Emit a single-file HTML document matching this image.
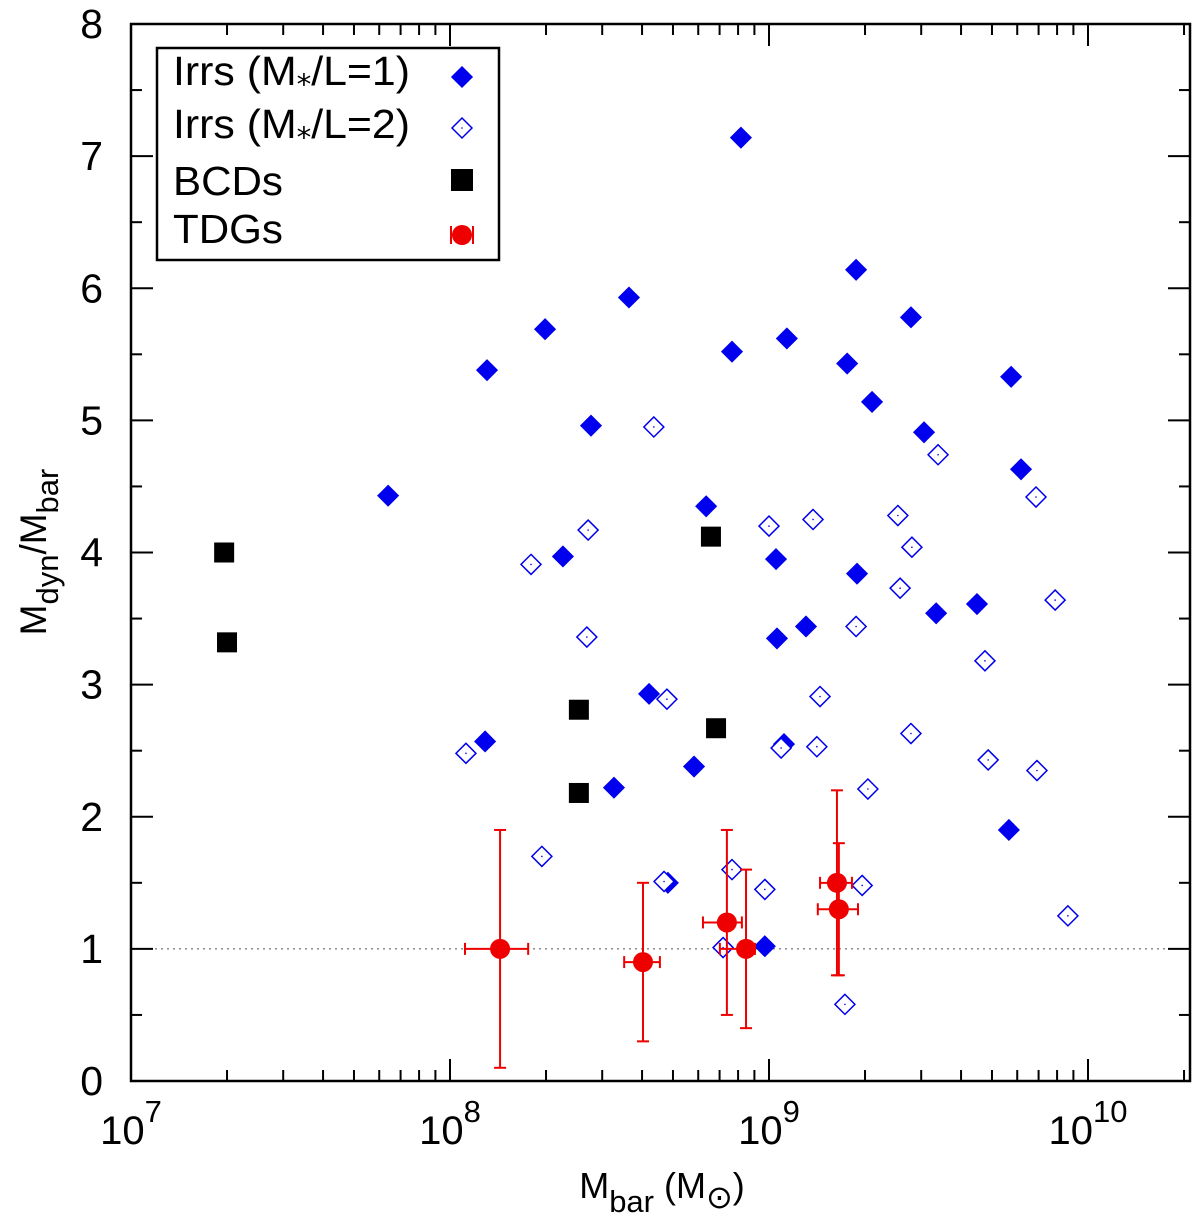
<!DOCTYPE html>
<html><head><meta charset="utf-8"><style>
html,body{margin:0;padding:0;background:#fff}
svg{display:block;font-family:"Liberation Sans",sans-serif}
</style></head><body>
<svg id="chart" width="1200" height="1216" viewBox="0 0 1200 1216" xmlns="http://www.w3.org/2000/svg"></svg>
<script>
// log10(Mbar) and Mdyn/Mbar values
const irr1LogM = [7.806,8.116,8.110,8.298,8.354,8.442,8.561,8.514,8.624,8.683,8.765,8.803,8.884,8.912,8.987,9.022,9.025,9.047,9.056,9.116,9.245,9.273,9.276,9.323,9.445,9.486,9.524,9.652,9.759,9.790,9.752];
const irr1Ratio = [4.43,5.38,2.57,5.69,3.97,4.96,5.93,2.22,2.93,1.50,2.38,4.35,5.52,7.14,1.02,3.95,3.35,2.55,5.62,3.44,5.43,6.14,3.84,5.14,5.78,4.91,3.54,3.61,5.33,4.63,1.90];
const irr2LogM = [8.050,8.254,8.288,8.433,8.429,8.639,8.680,8.671,8.856,8.884,9.0,8.987,9.038,9.138,9.150,9.160,9.238,9.273,9.292,9.310,9.404,9.411,9.448,9.445,9.530,9.677,9.687,9.837,9.840,9.897,9.937];
const irr2Ratio = [2.48,3.91,1.70,4.17,3.36,4.95,2.89,1.51,1.01,1.60,4.20,1.45,2.52,4.25,2.53,2.91,0.58,3.44,1.48,2.21,4.28,3.73,4.04,2.63,4.74,3.18,2.43,4.42,2.35,3.64,1.25];
const bcdLogM = [7.292,7.301,8.404,8.404,8.818,8.834];
const bcdRatio = [4.00,3.32,2.81,2.18,4.12,2.67];
const tdgLogM = [8.157,8.605,8.868,8.928,9.213,9.219];
const tdgLogMLo = [8.047,8.546,8.793,8.846,9.160,9.153];
const tdgLogMHi = [8.245,8.658,8.915,8.956,9.260,9.279];
const tdgRatio = [1.0,0.9,1.2,1.0,1.5,1.3];
const tdgRatioLo = [0.1,0.3,0.5,0.4,0.8,0.8];
const tdgRatioHi = [1.9,1.5,1.9,1.6,2.2,1.8];
const yTicks = [0,1,2,3,4,5,6,7,8];
const xDecades = [7,8,9,10];

const L=131,R=1190,T=24,B=1081;
const X=lg=>L+(lg-7)*319;
const Y=v=>B-(v/8)*(B-T);
const svg=document.getElementById('chart');
const NS='http://www.w3.org/2000/svg';
function mk(tag,attrs,parent){const e=document.createElementNS(NS,tag);for(const k in attrs)e.setAttribute(k,attrs[k]);(parent||svg).appendChild(e);return e;}

const ref=mk('line',{x1:L,x2:R,y1:Y(1),y2:Y(1),stroke:'#555','stroke-width':1,'stroke-dasharray':'2,4'});



const ticks=mk('g',{stroke:'#000','stroke-width':2});


yTicks.forEach(v=>{
  const y=Y(v);
  mk('line',{x1:L,x2:L+22,y1:y,y2:y},ticks);mk('line',{x1:R,x2:R-22,y1:y,y2:y},ticks);
  if(v<8){const y2=Y(v+0.5);mk('line',{x1:L,x2:L+11,y1:y2,y2:y2},ticks);mk('line',{x1:R,x2:R-11,y1:y2,y2:y2},ticks);}
  const t=mk('text',{x:L-28,y:y+14,'text-anchor':'end','font-size':41});
  t.textContent=v;
  
  
});
for(let d=7;d<=10;d++){
  for(let m=1;m<=9;m++){
    const lg=d+Math.log10(m);const x=X(lg);if(x>R)break;
    const len=m===1?22:11;
    mk('line',{x1:x,x2:x,y1:B,y2:B-len},ticks);mk('line',{x1:x,x2:x,y1:T,y2:T+len},ticks);
  }
}
xDecades.forEach(d=>{
  const t=mk('text',{x:X(d),y:1144,'text-anchor':'middle','font-size':40});
  t.textContent='10';
  const s=mk('tspan',{dy:-22,'font-size':31});s.textContent=d;t.appendChild(s);
  
  
});

const fr=mk('rect',{x:L,y:T,width:R-L,height:B-T,fill:'none',stroke:'#000','stroke-width':2.5});



const xt=mk('text',{x:662,y:1198,'text-anchor':'middle','font-size':36});
xt.innerHTML='M<tspan font-size="31" dy="14">bar</tspan><tspan dy="-14"> (M</tspan><tspan font-size="32" dy="10">⊙</tspan><tspan dy="-10">)</tspan>';


const yt=mk('text',{transform:'translate(46,552) rotate(-90)','text-anchor':'middle','font-size':37});
yt.innerHTML='M<tspan font-size="31" dy="12">dyn</tspan><tspan dy="-12">/M</tspan><tspan font-size="31" dy="12">bar</tspan>';



function diamond(x,y,filled,g){
  const s=10;
  return mk('polygon',{points:`${x},${y-s} ${x+s},${y} ${x},${y+s} ${x-s},${y}`,fill:filled?'#0000ee':'#fff',stroke:'#0000ee','stroke-width':1.5},g);
}
const g1=mk('g',{});


irr1LogM.forEach((m,i)=>{const p=diamond(X(m),Y(irr1Ratio[i]),true,g1);
  
  });
const g2=mk('g',{});


irr2LogM.forEach((m,i)=>{const x=X(m),y=Y(irr2Ratio[i]);const p=diamond(x,y,false,g2);
  
  
  mk('circle',{cx:x,cy:y,r:0.8,fill:'#0000ee'},g2);});
const g3=mk('g',{});


bcdLogM.forEach((m,i)=>{const p=mk('rect',{x:X(m)-10,y:Y(bcdRatio[i])-10,width:20,height:20,fill:'#000'},g3);
  
  });
const g4=mk('g',{stroke:'#ee0000','stroke-width':2});


tdgLogM.forEach((m,i)=>{
  const x=X(m),y=Y(tdgRatio[i]),x1=X(tdgLogMLo[i]),x2=X(tdgLogMHi[i]),y1=Y(tdgRatioLo[i]),y2=Y(tdgRatioHi[i]);
  mk('line',{x1:x1,x2:x2,y1:y,y2:y},g4);mk('line',{x1:x1,x2:x1,y1:y-6,y2:y+6},g4);mk('line',{x1:x2,x2:x2,y1:y-6,y2:y+6},g4);
  mk('line',{x1:x,x2:x,y1:y1,y2:y2},g4);mk('line',{x1:x-6,x2:x+6,y1:y1,y2:y1},g4);mk('line',{x1:x-6,x2:x+6,y1:y2,y2:y2},g4);
  const c=mk('circle',{cx:x,cy:y,r:10,fill:'#ee0000',stroke:'none'},g4);
  
  
});

const lg=mk('g',{});


mk('rect',{x:157,y:48,width:342,height:212,fill:'#fff',stroke:'#000','stroke-width':2.5},lg);
const labels=['Irrs (M<tspan font-size="28">⁎</tspan>/L=1)','Irrs (M<tspan font-size="28">⁎</tspan>/L=2)','BCDs','TDGs'];
const lw=[237,237,110,110];
const lb=[85,138,195,243];
labels.forEach((s,i)=>{const t=mk('text',{x:173,y:lb[i],'font-size':41,textLength:lw[i],lengthAdjust:'spacingAndGlyphs'},lg);t.innerHTML=s;
  
  });
const ly=[77,128,180,235];
diamond(462,ly[0],true,lg);
diamond(462,ly[1],false,lg);mk('circle',{cx:462,cy:ly[1],r:0.8,fill:'#0000ee'},lg);
mk('rect',{x:451,y:ly[2]-11,width:22,height:22,fill:'#000'},lg);
mk('line',{x1:451,x2:473,y1:ly[3],y2:ly[3],stroke:'#ee0000','stroke-width':2},lg);
mk('line',{x1:473,x2:473,y1:ly[3]-9,y2:ly[3]+9,stroke:'#ee0000','stroke-width':2},lg);
mk('line',{x1:451,x2:451,y1:ly[3]-9,y2:ly[3]+9,stroke:'#ee0000','stroke-width':2},lg);
mk('circle',{cx:462,cy:ly[3],r:10,fill:'#ee0000'},lg);
</script>
</body></html>
